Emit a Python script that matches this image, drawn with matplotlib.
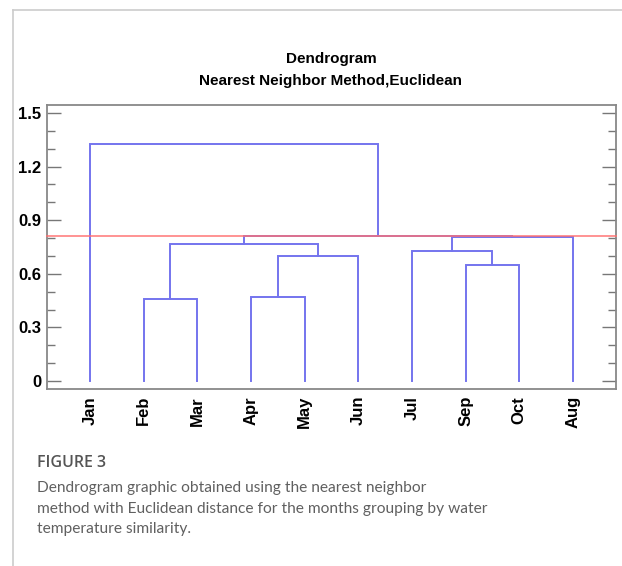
import matplotlib
import matplotlib.pyplot as plt
from matplotlib.lines import Line2D
from matplotlib.ticker import MultipleLocator

matplotlib.rcParams["font.family"] = ["Liberation Sans", "DejaVu Sans"]

# leaves in dendrogram order
months = ["Jan", "Feb", "Mar", "Apr", "May", "Jun", "Jul", "Sep", "Oct", "Aug"]

# merges: (left node, right node, distance); new clusters get ids 10, 11, ...
merges = [
    ("Feb", "Mar", 0.457),
    ("Apr", "May", 0.468),
    ("Sep", "Oct", 0.647),
    (11, "Jun", 0.701),
    ("Jul", 12, 0.729),
    (10, 13, 0.768),
    (14, "Aug", 0.808),
    (15, 16, 0.812),
    ("Jan", 17, 1.326),
]
cut_level = 0.81

LINK_COLOR = "#7474ee"
CUT_COLOR = "#ff6f6f"


def main():
    fig = plt.figure(figsize=(6.22, 5.66), dpi=100)
    ax = fig.add_axes([0.0756, 0.3127, 0.9144, 0.5018])

    # x position and height of every node
    pos = {m: (i + 1, 0.0) for i, m in enumerate(months)}
    for k, (a, b, h) in enumerate(merges):
        xa, ya = pos[a]
        xb, yb = pos[b]
        ax.plot([xa, xa, xb, xb], [ya, h, h, yb], color=LINK_COLOR, lw=1.4,
                solid_joinstyle="miter", zorder=2)
        pos[len(months) + k] = ((xa + xb) / 2, h)

    ax.axhline(cut_level, color=CUT_COLOR, lw=1.4, alpha=0.75, zorder=3,
               clip_on=False)

    ax.set_xlim(0.2, 10.8)
    ax.set_ylim(-0.045, 1.545)
    ax.set_xticks(range(1, len(months) + 1))
    ax.set_xticklabels(months, rotation=90, fontweight="bold", fontsize=12)
    ax.tick_params(axis="x", length=0, pad=5)
    ax.yaxis.set_major_locator(MultipleLocator(0.3))
    ax.yaxis.set_minor_locator(MultipleLocator(0.1))
    ax.set_yticks([0, 0.3, 0.6, 0.9, 1.2, 1.5])
    ax.set_yticklabels(["0", "0.3", "0.6", "0.9", "1.2", "1.5"],
                       fontweight="bold", fontsize=12)
    ax.tick_params(axis="y", which="major", direction="in", length=10,
                   width=1, color="#777777", right=True, pad=4)
    ax.tick_params(axis="y", which="minor", direction="in", length=5.5,
                   width=1, color="#777777", right=True)
    for s in ax.spines.values():
        s.set_color("#888888")
        s.set_linewidth(1.3)

    fig.text(0.532, 1 - 59 / 566, "Dendrogram", ha="center", va="center",
             fontsize=11, fontweight="bold")
    fig.text(0.532, 1 - 81 / 566, "Nearest Neighbor Method,Euclidean",
             ha="center", va="center", fontsize=11, fontweight="bold")

    # page frame
    fig.add_artist(Line2D([12.5 / 622, 12.5 / 622], [0, 1 - 10 / 566],
                          color="#cccccc", lw=1.2, transform=fig.transFigure))
    fig.add_artist(Line2D([12.5 / 622, 1], [1 - 10 / 566, 1 - 10 / 566],
                          color="#cccccc", lw=1.2, transform=fig.transFigure))

    # caption
    fig.text(37 / 622, 1 - 463 / 566, "FIGURE 3", ha="left", va="center",
             fontsize=11.5, color="#555555", family="Open Sans",
             fontweight="semibold")
    caption = ("Dendrogram graphic obtained using the nearest neighbor\n"
               "method with Euclidean distance for the months grouping by water\n"
               "temperature similarity.")
    fig.text(37 / 622, 1 - 481 / 566, caption, ha="left", va="top",
             fontsize=11.15, color="#606060", family="Lato",
             linespacing=1.6)

    fig.savefig("out.png", dpi=100)


if __name__ == "__main__":
    main()
